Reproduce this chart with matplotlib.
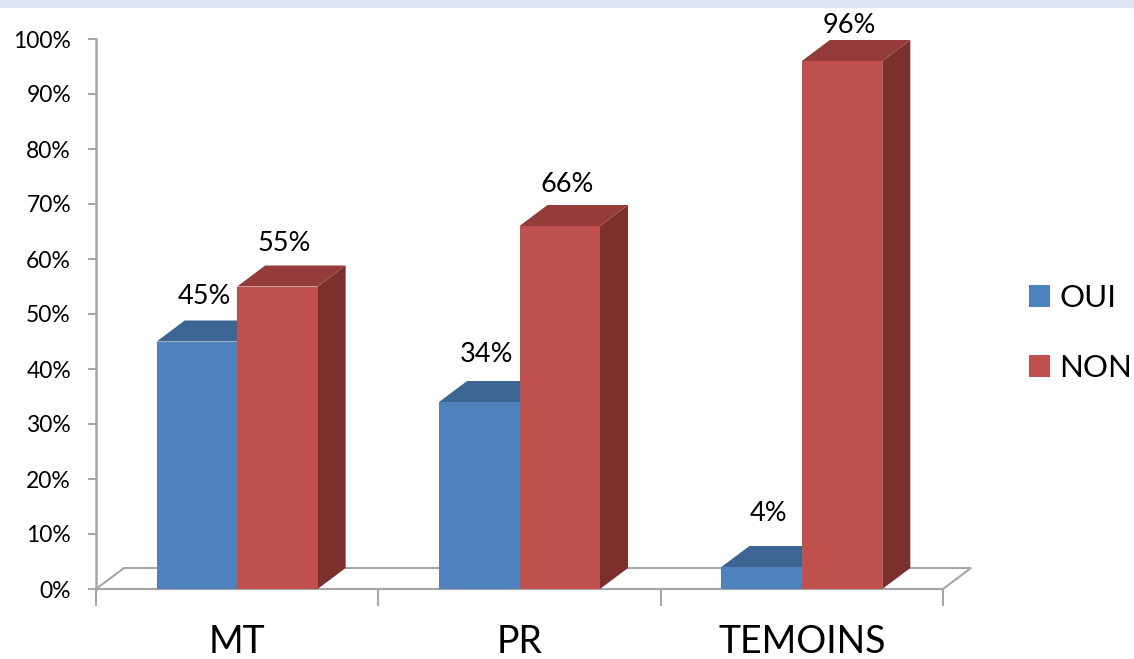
import matplotlib
matplotlib.use("Agg")
import matplotlib.pyplot as plt
from matplotlib.patches import Polygon, Rectangle, Patch

categories = ["MT", "PR", "TEMOINS"]
oui = [45, 34, 4]
non = [55, 66, 96]
series_names = ["OUI", "NON"]
yticks = [0, 10, 20, 30, 40, 50, 60, 70, 80, 90, 100]
ytick_labels = [f"{v}%" for v in yticks]

FONT = ["Lato", "DejaVu Sans"]
plt.rcParams["font.family"] = FONT

W, H = 1134, 659
fig = plt.figure(figsize=(W / 100, H / 100), dpi=100)
fig.patches.append(Rectangle((0, 1 - 7 / H), 1, 7 / H, transform=fig.transFigure,
                             color="#DCE6F2", zorder=0))

ax = fig.add_axes([96 / W, 1 - 589 / H, (943 - 96) / W, (589 - 39) / H])
ax.set_xlim(0, 3)
ax.set_ylim(0, 100)
for s in ["top", "right", "bottom"]:
    ax.spines[s].set_visible(False)
ax.spines["left"].set_color("#A6A6A6")
ax.spines["left"].set_linewidth(1.8)

# depth offsets (in data units)
DX = 28 / ((943 - 96) / 3)
DY = 21 / 5.5
BW = 0.285
grey = "#A6A6A6"

# floor
floor = Polygon([(0, 0), (3, 0), (3 + DX, DY), (DX, DY)], closed=True,
                facecolor="white", edgecolor=grey, linewidth=1.5, zorder=1, clip_on=False)
ax.add_patch(floor)

colors = {
    "OUI": ("#4F81BD", "#3D6593", "#2F4F74"),
    "NON": ("#C0504D", "#953C3A", "#7B302E"),
}

def draw_bar(x0, v, name, z):
    front, top, side = colors[name]
    x1 = x0 + BW
    ax.bar(x0, v, width=BW, align="edge", color=front, zorder=z, linewidth=0)
    ax.add_patch(Polygon([(x0, v), (x1, v), (x1 + DX, v + DY), (x0 + DX, v + DY)],
                         closed=True, facecolor=top, edgecolor="none", zorder=z, clip_on=False))
    ax.add_patch(Polygon([(x1, 0), (x1, v), (x1 + DX, v + DY), (x1 + DX, DY)],
                         closed=True, facecolor=side, edgecolor="none", zorder=z - 0.5, clip_on=False))

for i in range(len(categories)):
    c = i + 0.5
    draw_bar(c - BW, oui[i], "OUI", 3)
    draw_bar(c, non[i], "NON", 5)
    for x0, v in [(c - BW, oui[i]), (c, non[i])]:
        # label placement mimics the 3D perspective of the original
        ax.text(x0 + BW / 2 + 0.025, v + 9.8 - 0.035 * v, f"{v}%",
                ha="center", va="center", fontsize=19.5, color="black",
                clip_on=False, zorder=10)

# front floor line
ax.plot([0, 3], [0, 0], color=grey, lw=1.5, zorder=2, clip_on=False)

ax.set_yticks(yticks)
ax.set_yticklabels(ytick_labels, fontsize=16.5)
ax.tick_params(axis="y", length=6, width=1.5, color=grey, pad=12)

ax.set_xticks([0, 1, 2, 3])
ax.set_xticklabels([])
ax.tick_params(axis="x", which="major", length=12, width=1.5, color=grey, direction="out")
ax.set_xticks([0.5, 1.5, 2.5], minor=True)
ax.set_xticklabels(categories, minor=True, fontsize=27)
ax.tick_params(axis="x", which="minor", length=0, pad=25)

handles = [Patch(facecolor=colors[n][0], edgecolor="none") for n in series_names]
leg = fig.legend(handles, series_names, loc="center left",
                 bbox_to_anchor=(1029 / W, 1 - 333 / H), frameon=False,
                 fontsize=22.5, handlelength=0.68, handleheight=0.68,
                 handletextpad=0.3, labelspacing=1.35, borderpad=0, borderaxespad=0)

fig.savefig("out.png", dpi=100)
